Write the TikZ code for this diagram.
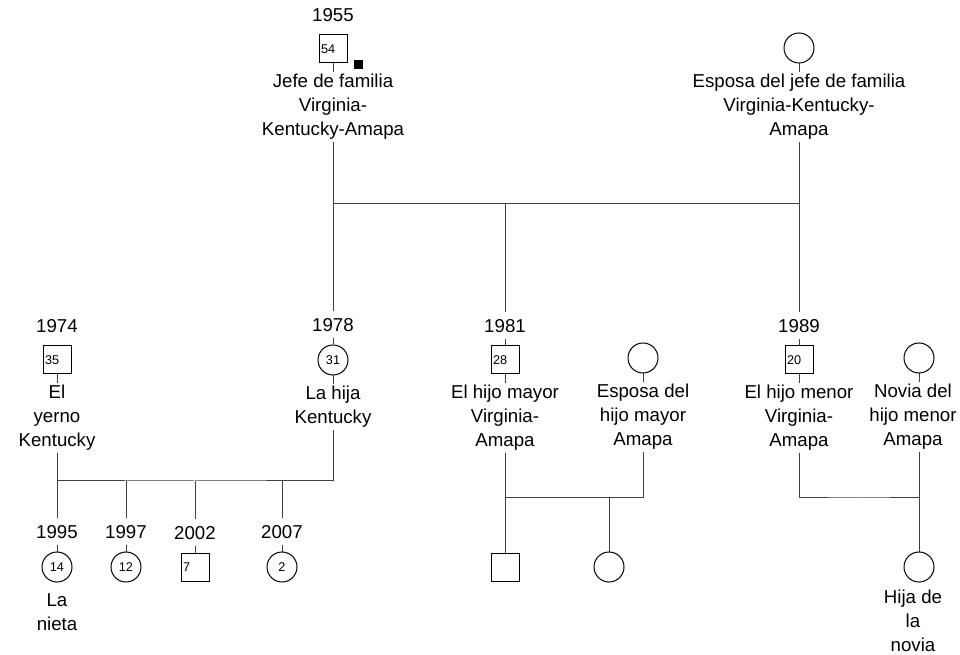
\documentclass[tikz,border=0pt]{standalone}
\usepackage{fontspec}
\setmainfont{Liberation Sans}
\usetikzlibrary{positioning,calc}
\pgfdeclarelayer{bg}
\pgfsetlayers{bg,main}

\begin{document}
\begin{tikzpicture}[x=0.75pt,y=0.75pt,
every node/.style={inner sep=0pt},
male/.style={draw,fill=white,line width=0.75pt,minimum size=21pt,text width=18pt,inner xsep=1.5pt,align=left,font=\fontsize{9.5}{11}\selectfont},
female/.style={circle,draw,fill=white,line width=0.75pt,minimum size=22.5pt,font=\fontsize{9.5}{11}\selectfont},
flag/.style={fill=black,minimum size=6.75pt},
year/.style={fill=white,inner xsep=1pt,inner ysep=5pt,font=\fontsize{14}{18}\selectfont},
who/.style={fill=white,align=center,inner xsep=0pt,inner ysep=2pt,font=\fontsize{14}{18}\selectfont},
link/.style={draw=black!75,line width=0.75pt}]
\useasboundingbox (0,0) rectangle (960,-655);
% first generation
\node[male] (jefe) at (333,-49) {54};
\node[flag] (jefeF) at (358,-65) {};
\node[female] (esposaJ) at (799,-48) {};
% second generation
\node[male] (yerno) at (57,-360) {35};
\node[female] (hija) at (333,-360) {31};
\node[male] (hMayor) at (505,-360) {28};
\node[female] (esposaM) at (643,-358) {};
\node[male] (hMenor) at (799,-360) {20};
\node[female] (noviaM) at (919,-358) {};
% third generation
\node[female] (nieta1) at (57,-567) {14};
\node[female] (nieta2) at (126,-567) {12};
\node[male] (nieto3) at (195,-567) {7};
\node[female] (nieta4) at (282,-567) {2};
\node[male] (cM1) at (505,-567) {};
\node[female] (cM2) at (609,-567) {};
\node[female] (cN1) at (919,-567) {};
% years of birth
\foreach \p/\yr in {jefe/1955,yerno/1974,hija/1978,hMayor/1981,hMenor/1989,
  nieta1/1995,nieta2/1997,nieto3/2002,nieta4/2007}
  \node[year,above=4.75pt of \p] (\p Y) {\yr};
% names
\node[who,below=6pt of jefe] (jefeL) {Jefe de familia\\Virginia-\\Kentucky-Amapa};
\node[who,below=6pt of esposaJ] (esposaJL) {Esposa del jefe de familia\\Virginia-Kentucky-\\Amapa};
\node[who,below=6pt of yerno] (yernoL) {El\\yerno\\Kentucky};
\node[who,below=6pt of hija] (hijaL) {La hija\\Kentucky};
\node[who,below=6pt of hMayor] (hMayorL) {El hijo mayor\\Virginia-\\Amapa};
\node[who,below=6pt of esposaM] (esposaML) {Esposa del\\hijo mayor\\Amapa};
\node[who,below=6pt of hMenor] (hMenorL) {El hijo menor\\Virginia-\\Amapa};
\node[who,below=6pt of noviaM,xshift=-4.5pt] (noviaML) {Novia del\\hijo menor\\Amapa};
\node[who,below=6pt of nieta1] (nieta1L) {La\\nieta};
\node[who,below=3.5pt of cN1,xshift=-4.5pt] (cN1L) {Hija de\\la\\novia};
% couple lines
\coordinate (uJ) at (566,-204);
\coordinate (uL) at (195,-481);
\coordinate (uM) at (574,-498);
\coordinate (uN) at (859,-498);
\begin{pgfonlayer}{bg}
\draw[link] (jefe) -- (hija);
\draw[link] (jefe |- uJ) -| (esposaJ);
\draw[link] (esposaJ) -- (hMenor);
\draw[link] (hMayor |- uJ) -- (hMayor);
\draw[link] (yerno) |- (uL) -| (hija);
\foreach \k in {nieta1,nieta2,nieto3,nieta4}
  \draw[link] (\k |- uL) -- (\k);
\draw[link] (hMayor) -- (cM1);
\draw[link] (hMayor |- uM) -| (esposaM);
\draw[link] (cM2 |- uM) -- (cM2);
\draw[link] (hMenor) |- (uN) -| (noviaM);
\draw[link] (noviaM) -- (cN1);
\end{pgfonlayer}
\end{tikzpicture}
\end{document}
